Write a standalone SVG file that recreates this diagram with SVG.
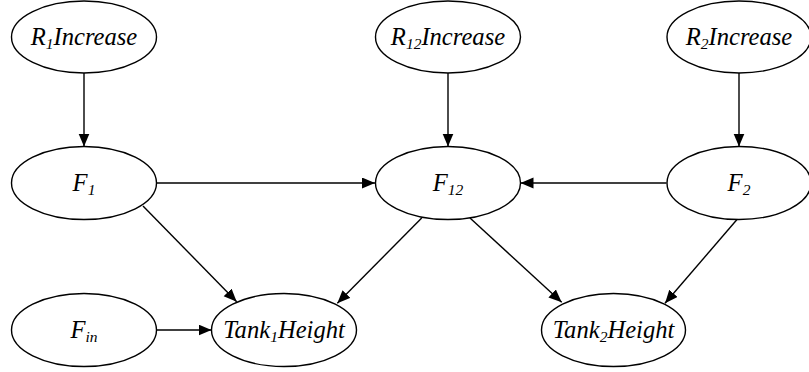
<svg xmlns="http://www.w3.org/2000/svg" width="809" height="372" viewBox="0 0 809 372">
  <style>
    .node ellipse { fill: #ffffff; stroke: #000000; stroke-width: 1.4; }
    .node text { font-family: 'Liberation Serif', 'DejaVu Serif', serif; font-style: italic; font-size: 24.6px; fill: #000000; text-anchor: middle; }
    .sub { font-size: 15.5px; }
    .edge { stroke: #000000; stroke-width: 1.4; fill: none; marker-end: url(#arrow); }
  </style>
  <defs>
    <marker id="arrow" markerUnits="userSpaceOnUse" markerWidth="14" markerHeight="12" refX="13" refY="5.5" orient="auto">
      <path d="M0,0 L13,5.5 L0,11 z" fill="#000000"/>
    </marker>
  </defs>
  <rect width="809" height="372" fill="#ffffff"/>

  <!-- directed edges, each ending on the target ellipse outline -->
  <g id="connectors">
    <line class="edge" x1="84" y1="73" x2="84" y2="146.5"/>
    <line class="edge" x1="448" y1="73" x2="448" y2="146.5"/>
    <line class="edge" x1="739" y1="73" x2="739" y2="146.5"/>
    <line class="edge" x1="156.5" y1="183" x2="375" y2="183"/>
    <line class="edge" x1="666.5" y1="183" x2="520.5" y2="183"/>
    <line class="edge" x1="143" y1="206" x2="236.7" y2="301.7"/>
    <line class="edge" x1="421.7" y1="218" x2="337.3" y2="303.3"/>
    <line class="edge" x1="470" y1="218" x2="561.7" y2="302.3"/>
    <line class="edge" x1="737" y1="219.5" x2="665" y2="303.3"/>
    <line class="edge" x1="156.5" y1="330" x2="211.5" y2="330"/>
  </g>

  <g id="R1Increase" class="node">
    <ellipse cx="84" cy="37" rx="72.5" ry="36"/>
    <text x="84" y="45">R<tspan class="sub" dy="4">1</tspan><tspan dy="-4">Increase</tspan></text>
  </g>
  <g id="R12Increase" class="node">
    <ellipse cx="448" cy="37" rx="72.5" ry="36"/>
    <text x="448" y="45">R<tspan class="sub" dy="4">12</tspan><tspan dy="-4">Increase</tspan></text>
  </g>
  <g id="R2Increase" class="node">
    <ellipse cx="739" cy="37" rx="72" ry="36"/>
    <text x="739" y="45">R<tspan class="sub" dy="4">2</tspan><tspan dy="-4">Increase</tspan></text>
  </g>
  <g id="F1" class="node">
    <ellipse cx="84" cy="183" rx="72.5" ry="36.5"/>
    <text x="84" y="191">F<tspan class="sub" dy="4">1</tspan></text>
  </g>
  <g id="F12" class="node">
    <ellipse cx="448" cy="183" rx="72.5" ry="36.5"/>
    <text x="448" y="191">F<tspan class="sub" dy="4">12</tspan></text>
  </g>
  <g id="F2" class="node">
    <ellipse cx="739" cy="183" rx="72" ry="36.5"/>
    <text x="739" y="191">F<tspan class="sub" dy="4">2</tspan></text>
  </g>
  <g id="Fin" class="node">
    <ellipse cx="84" cy="330" rx="72.5" ry="36.5"/>
    <text x="84" y="338">F<tspan class="sub" dy="4">in</tspan></text>
  </g>
  <g id="Tank1Height" class="node">
    <ellipse cx="284" cy="330" rx="72.5" ry="36.5"/>
    <text x="284" y="338">Tank<tspan class="sub" dy="4">1</tspan><tspan dy="-4">Height</tspan></text>
  </g>
  <g id="Tank2Height" class="node">
    <ellipse cx="613.5" cy="330" rx="72" ry="36.5"/>
    <text x="613.5" y="338">Tank<tspan class="sub" dy="4">2</tspan><tspan dy="-4">Height</tspan></text>
  </g>
</svg>
